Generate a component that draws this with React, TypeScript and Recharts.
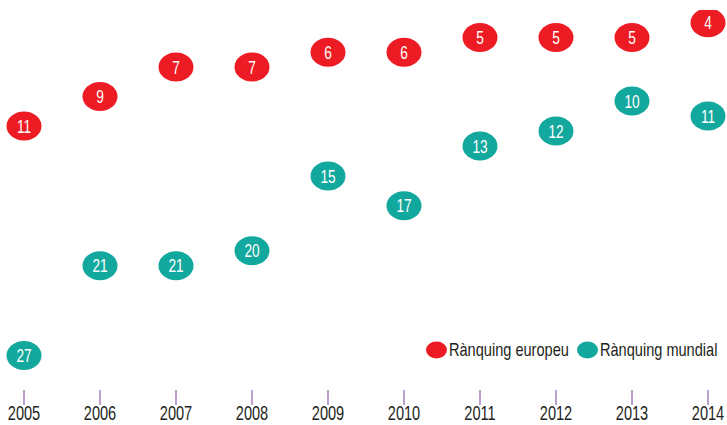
import { ScatterChart, Scatter, XAxis, YAxis } from 'recharts';

const years = [2005, 2006, 2007, 2008, 2009, 2010, 2011, 2012, 2013, 2014];
const europeanRank = [11, 9, 7, 7, 6, 6, 5, 5, 5, 4];
const worldRank = [27, 21, 21, 20, 15, 17, 13, 12, 10, 11];
const seriesNames = ['Rànquing europeu', 'Rànquing mundial'];

const RED = '#ED1C24';
const TEAL = '#13A89E';
const INK = '#231F20';
const FONT = "'Liberation Sans', Arial, sans-serif";

const europeData = years.map((year, i) => ({ year, rank: europeanRank[i] }));
const worldData = years.map((year, i) => ({ year, rank: worldRank[i] }));

// the original uses a condensed face; squeeze Liberation Sans horizontally
const NarrowText = ({ x, y, sx, size, fill, anchor = 'middle', dy = '0.36em', children }: any) => (
    <text
        transform={`translate(${x},${y}) scale(${sx},1)`}
        x={0}
        y={0}
        dy={dy}
        textAnchor={anchor}
        fill={fill}
        fontSize={size}
        fontFamily={FONT}
    >
        {children}
    </text>
);

const Badge = (color: string) => (props: any) => {
    const { cx, cy, payload } = props;
    if (cx == null || cy == null) return null;
    return (
        <g>
            <ellipse cx={cx} cy={cy} rx={17.5} ry={14.5} fill={color} />
            <NarrowText x={cx} y={cy} sx={0.74} size={18.5} fill="#fff">
                {payload.rank}
            </NarrowText>
        </g>
    );
};

const YearTick = (props: any) => {
    const { x, y, payload } = props;
    return (
        <NarrowText x={x} y={y} sx={0.73} size={20} fill={INK} dy="0.7em">
            {payload.value}
        </NarrowText>
    );
};

const ChartLegend = () => {
    const items = [
        { label: seriesNames[0], color: RED, x: 0 },
        { label: seriesNames[1], color: TEAL, x: 151 },
    ];
    return (
        <svg width={300} height={24} style={{ position: 'absolute', left: 425, top: 338 }}>
            {items.map((it) => (
                <g key={it.label}>
                    <ellipse cx={it.x + 11.5} cy={12} rx={10.5} ry={8.5} fill={it.color} />
                    <NarrowText x={it.x + 24} y={12} sx={0.81} size={18} fill={INK} anchor="start">
                        {it.label}
                    </NarrowText>
                </g>
            ))}
        </svg>
    );
};

export default function App() {
    return (
        <div style={{ position: 'absolute', left: 0, top: 0, width: 727, height: 425, background: '#fff' }}>
            <ScatterChart width={727} height={425} margin={{ top: 10, right: 19, bottom: 0, left: 24 }}>
                <XAxis
                    dataKey="year"
                    type="number"
                    domain={[2005, 2014]}
                    ticks={years}
                    axisLine={false}
                    tickLine={{ stroke: '#7B3FA0', strokeWidth: 1 }}
                    tickSize={15}
                    tickMargin={1}
                    height={35}
                    tick={<YearTick />}
                    interval={0}
                />
                <YAxis yAxisId="eu" dataKey="rank" type="number" domain={[3.14, 28.88]} reversed hide allowDataOverflow />
                <YAxis yAxisId="world" dataKey="rank" type="number" domain={[3.91, 29.31]} reversed hide allowDataOverflow />
                <Scatter
                    name={seriesNames[0]}
                    data={europeData}
                    yAxisId="eu"
                    fill={RED}
                    shape={Badge(RED)}
                    isAnimationActive={false}
                />
                <Scatter
                    name={seriesNames[1]}
                    data={worldData}
                    yAxisId="world"
                    fill={TEAL}
                    shape={Badge(TEAL)}
                    isAnimationActive={false}
                />
            </ScatterChart>
            <ChartLegend />
        </div>
    );
}
